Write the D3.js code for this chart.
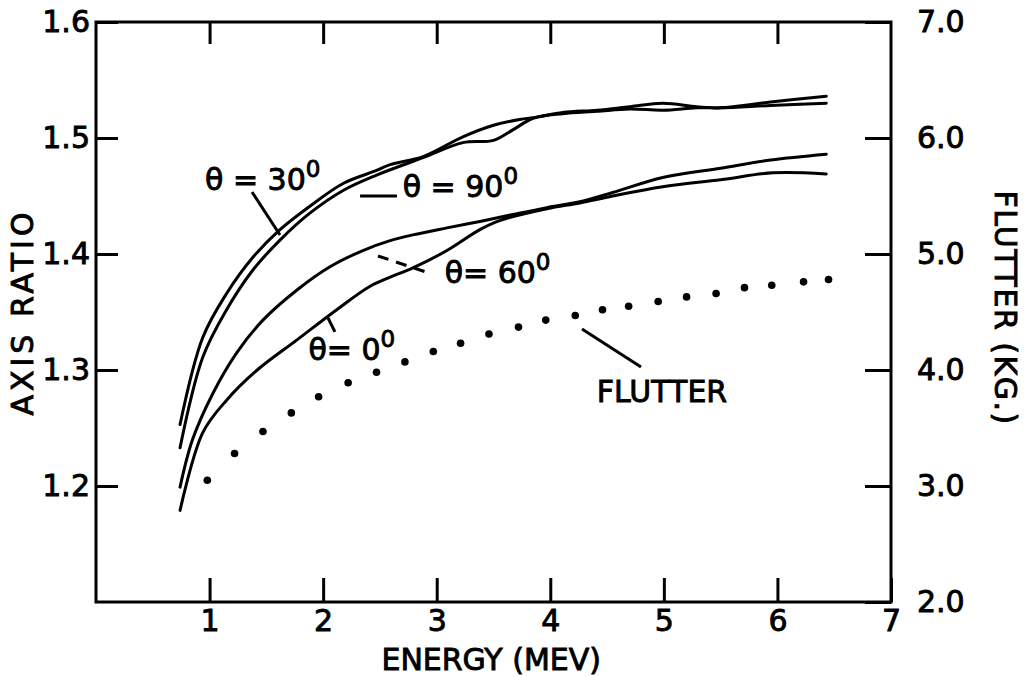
<!DOCTYPE html>
<html>
<head>
<meta charset="utf-8">
<script src="https://cdn.jsdelivr.net/npm/d3@7"></script>
<style>
  html, body { margin: 0; padding: 0; background: #fff; }
  svg { display: block; }
  text { font-family: "DejaVu Sans", sans-serif; fill: #000; stroke: #000; stroke-width: 0.9px; }
</style>
</head>
<body>
<svg id="chart" width="1026" height="677"></svg>
<script>
// Tick values
const energyTicks = [1, 2, 3, 4, 5, 6, 7];
const ratioTicks = [1.2, 1.3, 1.4, 1.5, 1.6];
const flutterTicks = [2, 3, 4, 5, 6, 7];

// Axis ratio vs energy, one pair of arrays per angle
const theta30E = [0.74, 0.94, 1.15, 1.38, 1.62, 1.88, 2.18, 2.47, 2.59, 2.88, 3.23, 3.50, 3.73, 3.88, 4.11, 4.41, 4.70, 4.99, 5.29, 5.50, 5.94, 6.43];
const theta30R = [1.253, 1.328, 1.366, 1.397, 1.421, 1.441, 1.461, 1.472, 1.477, 1.484, 1.501, 1.511, 1.516, 1.518, 1.522, 1.524, 1.527, 1.530, 1.527, 1.526, 1.531, 1.536];

const theta90E = [0.74, 0.94, 1.15, 1.38, 1.62, 1.88, 2.18, 2.47, 2.88, 3.23, 3.50, 3.67, 3.85, 4.11, 4.41, 4.70, 4.99, 5.29, 5.50, 5.94, 6.43];
const theta90R = [1.233, 1.311, 1.352, 1.386, 1.412, 1.435, 1.455, 1.468, 1.483, 1.496, 1.498, 1.507, 1.517, 1.521, 1.523, 1.525, 1.524, 1.526, 1.526, 1.528, 1.530];

const theta60E = [0.74, 0.85, 1.03, 1.24, 1.47, 1.77, 2.06, 2.35, 2.59, 2.79, 3.09, 3.38, 3.67, 3.97, 4.26, 4.55, 4.99, 5.50, 5.94, 6.43];
const theta60R = [1.199, 1.240, 1.280, 1.315, 1.343, 1.369, 1.389, 1.403, 1.4115, 1.4165, 1.4225, 1.428, 1.434, 1.440, 1.445, 1.453, 1.466, 1.474, 1.481, 1.486];

const theta0E = [0.74, 0.94, 1.15, 1.42, 1.77, 2.12, 2.41, 2.59, 2.79, 3.09, 3.38, 3.56, 3.97, 4.26, 4.55, 4.99, 5.50, 5.96, 6.43];
const theta0R = [1.179, 1.246, 1.274, 1.300, 1.326, 1.352, 1.372, 1.380, 1.388, 1.403, 1.421, 1.429, 1.439, 1.444, 1.450, 1.458, 1.464, 1.470, 1.469];

// Flutter field (kG) vs energy, right-hand axis
const flutterE = [0.98, 1.22, 1.47, 1.72, 1.96, 2.22, 2.47, 2.72, 2.97, 3.21, 3.46, 3.72, 3.96, 4.22, 4.46, 4.69, 4.95, 5.20, 5.46, 5.71, 5.95, 6.23, 6.45];
const flutterKG = [3.05, 3.28, 3.47, 3.63, 3.77, 3.89, 3.98, 4.07, 4.16, 4.23, 4.31, 4.37, 4.43, 4.47, 4.52, 4.55, 4.59, 4.63, 4.66, 4.71, 4.73, 4.76, 4.78];

const svg = d3.select("#chart");
const margin = { left: 96, top: 22, right: 135, bottom: 75 };
const W = 1026 - margin.left - margin.right;
const H = 677 - margin.top - margin.bottom;
const g = svg.append("g").attr("transform", `translate(${margin.left},${margin.top})`);

const x = d3.scaleLinear().domain([0, 7]).range([0, W]);
const yL = d3.scaleLinear().domain([1.1, 1.6]).range([H, 0]);
const yR = d3.scaleLinear().domain([2, 7]).range([H, 0]);

const FS = 30;
const styleAxis = sel => {
  sel.select(".domain").remove();
  sel.selectAll(".tick line").attr("stroke", "#000").attr("stroke-width", 3);
  sel.selectAll("text").attr("font-size", FS).attr("font-family", "DejaVu Sans").attr("fill", "#000");
};

// Frame
g.append("rect").attr("x", 0).attr("y", 0).attr("width", W).attr("height", H)
  .attr("fill", "none").attr("stroke", "#000").attr("stroke-width", 3);

// Axes with inward ticks
g.append("g").attr("transform", `translate(0,${H})`)
  .call(d3.axisBottom(x).tickValues(energyTicks).tickSizeInner(-24).tickSizeOuter(0).tickPadding(8).tickFormat(d3.format("d")))
  .call(styleAxis);
g.append("g")
  .call(d3.axisTop(x).tickValues(energyTicks.slice(0, 6)).tickSizeInner(-22).tickSizeOuter(0).tickFormat(""))
  .call(styleAxis);
g.append("g")
  .call(d3.axisLeft(yL).tickValues(ratioTicks).tickSizeInner(-22).tickSizeOuter(0).tickPadding(6).tickFormat(d3.format(".1f")))
  .call(styleAxis);
g.append("g").attr("transform", `translate(${W},0)`)
  .call(d3.axisRight(yR).tickValues(flutterTicks).tickSizeInner(-26).tickSizeOuter(0).tickPadding(26).tickFormat(d3.format(".1f")))
  .call(styleAxis);

// Axis titles
svg.append("text")
  .attr("transform", `translate(33,${margin.top + H / 2}) rotate(-90)`)
  .attr("text-anchor", "middle").attr("font-size", FS).attr("letter-spacing", 4)
  .text("AXIS RATIO");
svg.append("text")
  .attr("transform", `translate(995,${margin.top + H / 2 - 4}) rotate(90)`)
  .attr("text-anchor", "middle").attr("font-size", FS).attr("letter-spacing", 1.5)
  .text("FLUTTER (KG.)");
svg.append("text")
  .attr("x", margin.left + x(3.48)).attr("y", 670)
  .attr("text-anchor", "middle").attr("font-size", FS)
  .text("ENERGY (MEV)");

// Curves
const line = d3.line().x(d => x(d[0])).y(d => yL(d[1])).curve(d3.curveCatmullRom.alpha(0.5));
const series = [
  d3.zip(theta30E, theta30R),
  d3.zip(theta90E, theta90R),
  d3.zip(theta60E, theta60R),
  d3.zip(theta0E, theta0R)
];
g.selectAll("path.curve").data(series).join("path")
  .attr("class", "curve")
  .attr("d", line)
  .attr("fill", "none").attr("stroke", "#000").attr("stroke-width", 3)
  .attr("stroke-linecap", "round");

// Flutter dots
g.selectAll("circle.flutter").data(d3.zip(flutterE, flutterKG)).join("circle")
  .attr("class", "flutter")
  .attr("cx", d => x(d[0])).attr("cy", d => yR(d[1])).attr("r", 3.8)
  .attr("fill", "#000");

// Curve labels: [energy, ratio] for the text start, and leader endpoints
function label(e, r, main, sup) {
  const t = g.append("text").attr("x", x(e)).attr("y", yL(r)).attr("font-size", FS).attr("xml:space", "preserve");
  t.append("tspan").text(main);
  t.append("tspan").attr("font-size", 23).attr("dy", -13).text(sup);
}
function leader(e1, r1, e2, r2, dash) {
  g.append("line")
    .attr("x1", x(e1)).attr("y1", yL(r1)).attr("x2", x(e2)).attr("y2", yL(r2))
    .attr("stroke", "#000").attr("stroke-width", 3)
    .attr("stroke-dasharray", dash || null);
}

label(0.96, 1.455, "θ = 30", "0");
leader(1.374, 1.4534, 1.62, 1.4164);

label(2.70, 1.449, "θ = 90", "0");
leader(2.325, 1.450, 2.65, 1.450);

label(3.07, 1.375, "θ= 60", "0");
leader(2.483, 1.3983, 2.906, 1.3845, "11,8");

label(1.87, 1.3086, "θ= 0", "0");
leader(2.043, 1.3448, 2.104, 1.3328);

g.append("text").attr("x", x(4.41)).attr("y", yL(1.2724)).attr("font-size", FS).text("FLUTTER");
leader(4.279, 1.3353, 4.799, 1.3026);
</script>
</body>
</html>
